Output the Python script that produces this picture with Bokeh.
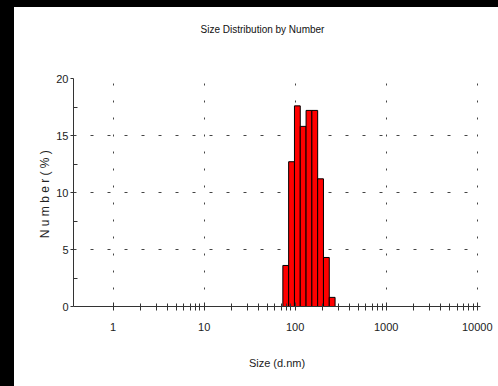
from bokeh.plotting import figure
from bokeh.models import Range1d, FixedTicker, PrintfTickFormatter, Title
from bokeh.embed import file_html
from bokeh.resources import INLINE

# Malvern size bins (d.nm) and number distribution (%)
sizes = [78.82, 91.28, 105.7, 122.4, 141.8, 164.2, 190.1, 220.2, 255.0]
number_pct = [3.6, 12.7, 17.6, 15.8, 17.2, 17.2, 11.2, 4.3, 0.8]
x_ticks = [1, 10, 100, 1000, 10000]
y_ticks = [0, 5, 10, 15, 20]
title_text = "Size Distribution by Number"

ratio = sizes[1] / sizes[0]
half = ratio ** 0.5
lefts = [s / half for s in sizes]
rights = [s * half for s in sizes]

FONT = "Liberation Sans Narrow, Arial Narrow, Liberation Sans, sans-serif"

p = figure(width=484, height=379, x_axis_type="log",
           x_range=Range1d(0.367, 10870), y_range=Range1d(0, 20),
           output_backend="svg", toolbar_location=None,
           min_border_left=59, min_border_right=18,
           min_border_top=71, min_border_bottom=80)
p.outline_line_color = None
p.background_fill_color = "white"
p.border_fill_color = "white"

p.quad(left=lefts, right=rights, bottom=0, top=number_pct,
       fill_color="#FF0000", line_color="black", line_width=1)

minor_x = [m * d for d in [1, 10, 100, 1000] for m in range(2, 10)]
p.xaxis.ticker = FixedTicker(ticks=x_ticks, minor_ticks=minor_x)
p.yaxis.ticker = FixedTicker(ticks=y_ticks, minor_ticks=[2.5, 7.5, 12.5, 17.5])
p.xaxis.formatter = PrintfTickFormatter(format="%d")

for ax in (p.xaxis[0], p.yaxis[0]):
    ax.axis_line_color = "#333333"
    ax.major_tick_line_color = "#333333"
    ax.minor_tick_line_color = "#333333"
    ax.major_label_text_font = FONT
    ax.major_label_text_font_size = "11px"
    ax.major_label_text_color = "#222222"
    ax.axis_label_text_font = FONT
    ax.axis_label_text_font_size = "11px"
    ax.axis_label_text_font_style = "normal"
    ax.axis_label_text_color = "#222222"

p.xaxis.major_tick_in = 4
p.xaxis.major_tick_out = 4
p.xaxis.minor_tick_in = 3
p.xaxis.minor_tick_out = 4
p.xaxis.major_label_standoff = 12
p.xaxis.axis_label = "Size (d.nm)"
p.xaxis.axis_label_standoff = 23

p.yaxis.major_tick_in = 0
p.yaxis.major_tick_out = 3
p.yaxis.minor_tick_in = 4
p.yaxis.minor_tick_out = 0
p.yaxis.major_label_standoff = 2
p.yaxis.axis_label = "N u m b e r  ( % )"
p.yaxis.axis_label_text_font_size = "12px"
p.yaxis.axis_label_standoff = 1

p.xgrid.grid_line_color = "#444444"
p.xgrid.grid_line_dash = "2 15"
p.ygrid.grid_line_color = "#444444"
p.ygrid.grid_line_dash = "3 14"

# invisible spacer panel between the frame and the title
p.add_layout(Title(text=" ", text_font_size="10px", standoff=31), "above")

p.title.text = title_text
p.title.align = "left"
p.title.text_font = FONT
p.title.text_font_size = "10px"
p.title.text_font_style = "normal"
p.title.text_color = "#111111"
p.title.offset = 127
p.title.standoff = 0

html = file_html(p, INLINE)
html = html.replace("</head>", "<style>html,body{background:#fff;margin:0;overflow:hidden}body{border-top:7px solid #000;border-left:14px solid #000}</style></head>", 1)
open("out.html", "w").write(html)
